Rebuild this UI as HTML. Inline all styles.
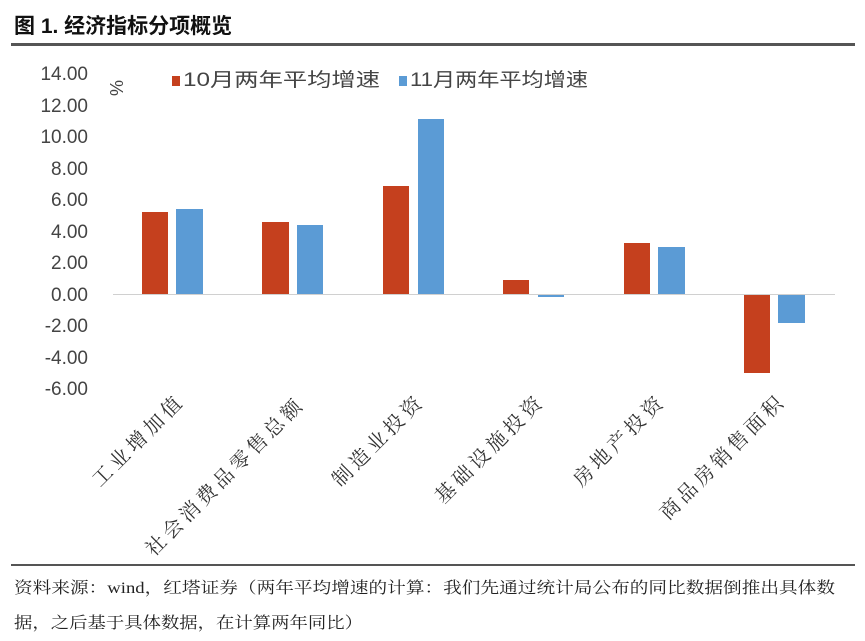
<!DOCTYPE html>
<html><head><meta charset="utf-8"><style>
body{margin:0;background:#fff;width:865px;height:641px;overflow:hidden}
svg{display:block}
text{font-family:"Liberation Sans","Noto Sans CJK SC",sans-serif}
.s{font-family:"Liberation Serif","Noto Serif CJK SC",serif}
</style></head><body>
<svg width="865" height="641" viewBox="0 0 865 641">
<text x="14" y="33" font-size="21" font-weight="bold" fill="#111">图 1. 经济指标分项概览</text>
<rect x="11" y="43" width="844" height="3" fill="#555"/>
<g font-size="19" fill="#444" text-anchor="end">
<text x="88" y="80">14.00</text><text x="88" y="112">12.00</text><text x="88" y="143">10.00</text>
<text x="88" y="175">8.00</text><text x="88" y="206">6.00</text><text x="88" y="238">4.00</text>
<text x="88" y="269">2.00</text><text x="88" y="301">0.00</text><text x="88" y="332">-2.00</text>
<text x="88" y="364">-4.00</text><text x="88" y="395">-6.00</text>
</g>
<text transform="translate(110,80) rotate(90)" font-size="18" fill="#444">%</text>
<rect x="172" y="76" width="8" height="10" fill="#c5401e"/>
<text x="183" y="86" font-size="19" fill="#444" textLength="197" lengthAdjust="spacingAndGlyphs">10月两年平均增速</text>
<rect x="399" y="76" width="8" height="10" fill="#5b9bd5"/>
<text x="410" y="86" font-size="19" fill="#444" textLength="178" lengthAdjust="spacingAndGlyphs">11月两年平均增速</text>
<line x1="113" y1="294.5" x2="835" y2="294.5" stroke="#d0d0d0" stroke-width="1"/>
<g fill="#c5401e">
<rect x="142" y="212" width="26" height="82"/>
<rect x="262" y="222" width="27" height="72"/>
<rect x="383" y="186" width="26" height="108"/>
<rect x="503" y="280" width="26" height="14"/>
<rect x="624" y="243" width="26" height="51"/>
<rect x="744" y="295" width="26" height="78"/>
</g>
<g fill="#5b9bd5">
<rect x="176" y="209" width="27" height="85"/>
<rect x="297" y="225" width="26" height="69"/>
<rect x="418" y="119" width="26" height="175"/>
<rect x="538" y="295" width="26" height="2"/>
<rect x="658" y="247" width="27" height="47"/>
<rect x="778" y="295" width="27" height="28"/>
</g>
<g font-size="20" fill="#333" text-anchor="end" class="s">
<text class="s" transform="translate(183,405) rotate(-45)" textLength="117">工业增加值</text>
<text class="s" transform="translate(303,408) rotate(-45)" textLength="211">社会消费品零售总额</text>
<text class="s" transform="translate(423,405) rotate(-45)" textLength="117">制造业投资</text>
<text class="s" transform="translate(543,405) rotate(-45)" textLength="141">基础设施投资</text>
<text class="s" transform="translate(664,405) rotate(-45)" textLength="117">房地产投资</text>
<text class="s" transform="translate(784,405) rotate(-45)" textLength="164">商品房销售面积</text>
</g>
<rect x="11" y="564" width="844" height="2" fill="#555"/>
<g font-size="16" fill="#222">
<text class="s" x="14" y="593" textLength="821" lengthAdjust="spacingAndGlyphs">资料来源：wind，红塔证券（两年平均增速的计算：我们先通过统计局公布的同比数据倒推出具体数</text>
<text class="s" x="14" y="628" textLength="349" lengthAdjust="spacingAndGlyphs">据，之后基于具体数据，在计算两年同比）</text>
</g>
</svg>
</body></html>
